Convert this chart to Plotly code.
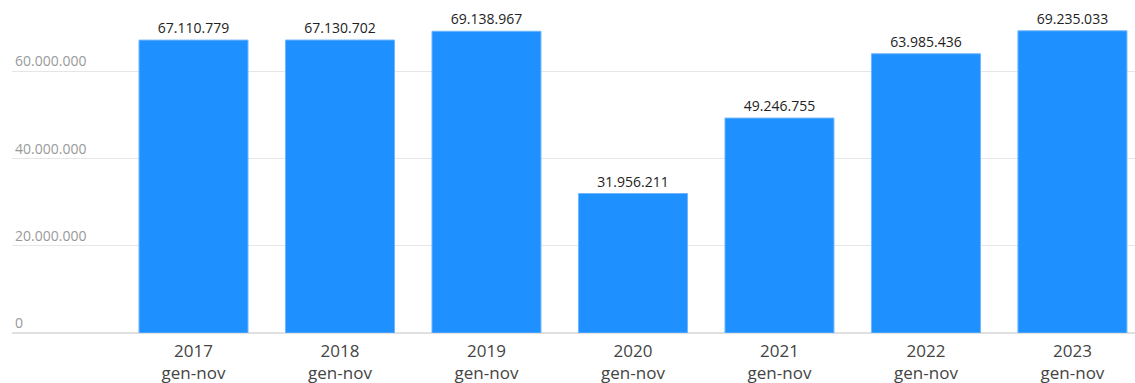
import plotly.graph_objects as go

years = ["2017", "2018", "2019", "2020", "2021", "2022", "2023"]
period = "gen-nov"
values = [67110779, 67130702, 69138967, 31956211, 49246755, 63985436, 69235033]
y_ticks = [0, 20000000, 40000000, 60000000]

x_pos = list(range(len(years)))
labels = [f"{v:,}".replace(",", ".") for v in values]

fig = go.Figure(
    go.Bar(
        x=x_pos,
        y=values,
        width=0.744,
        marker=dict(color="#1E90FF", line=dict(color="#6FB6FF", width=1)),
        text=labels,
        textposition="outside",
        textfont=dict(family="Open Sans, sans-serif", size=14, color="#222222"),
        cliponaxis=False,
        hoverinfo="skip",
    )
)

fig.update_layout(
    width=1135,
    height=383,
    margin=dict(l=12, r=0, t=0, b=50),
    paper_bgcolor="white",
    plot_bgcolor="white",
    showlegend=False,
    separators=",.",
    xaxis=dict(
        range=[-1.239, 6.427],
        tickmode="array",
        tickvals=x_pos,
        ticktext=[f"{y}<br>{period}" for y in years],
        tickfont=dict(family="Open Sans, sans-serif", size=17, color="#444444"),
        ticklabelstandoff=6,
        showgrid=False,
        zeroline=False,
        showline=False,
        ticks="",
    ),
    yaxis=dict(
        range=[0, 76300000],
        tickmode="array",
        tickvals=y_ticks,
        ticktext=[f"{v:,}".replace(",", ".") for v in y_ticks],
        ticklabelposition="inside top",
        tickfont=dict(family="Open Sans, sans-serif", size=14, color="#999999"),
        showgrid=True,
        gridcolor="#E6E6E6",
        gridwidth=1,
        zeroline=True,
        zerolinecolor="#E0E0E0",
        zerolinewidth=2,
        showline=False,
        ticks="",
    ),
)

fig.write_html("out.html")
